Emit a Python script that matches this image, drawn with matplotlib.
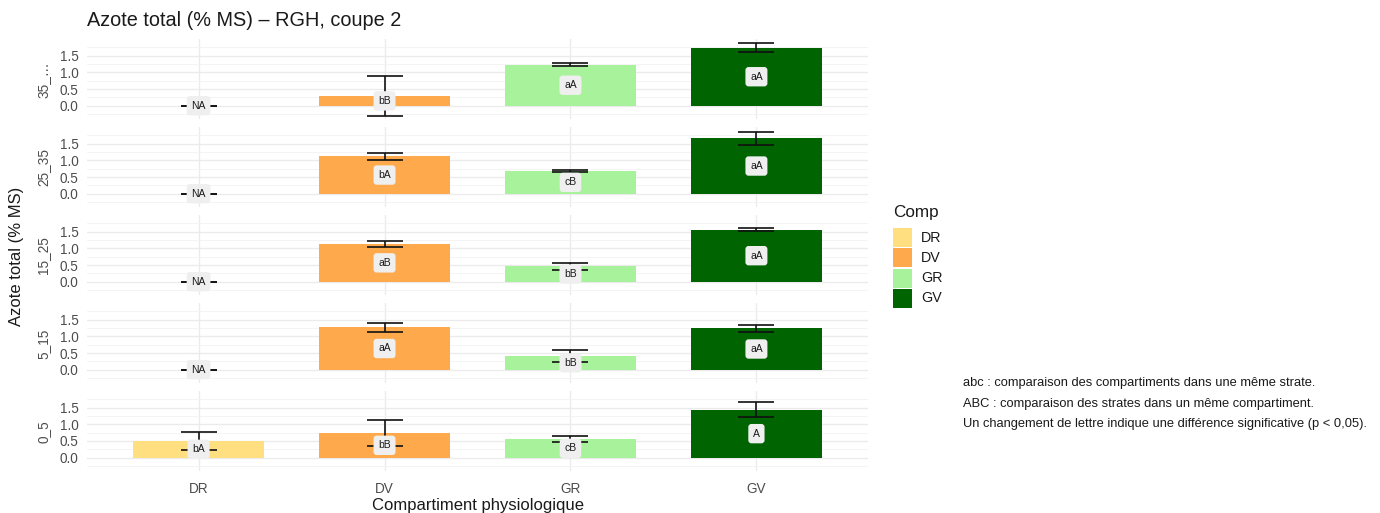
import numpy as np
import matplotlib
matplotlib.use("Agg")
import matplotlib.pyplot as plt
from matplotlib.patches import Rectangle

plt.rcParams['font.family'] = ['Liberation Sans', 'DejaVu Sans']

# compartments and soil strata (top to bottom)
comps = ["DR", "DV", "GR", "GV"]
strates = ["35_…", "25_35", "15_25", "5_15", "0_5"]
colors = ["#FFDF80", "#FFA94D", "#A8F29B", "#006400"]

# mean nitrogen content (% DM), NaN = no sample
means = [
    [np.nan, 0.29, 1.23, 1.74],
    [np.nan, 1.12, 0.68, 1.66],
    [np.nan, 1.13, 0.46, 1.56],
    [np.nan, 1.27, 0.41, 1.24],
    [0.50, 0.74, 0.56, 1.44],
]
sds = [
    [np.nan, 0.59, 0.05, 0.14],
    [np.nan, 0.10, 0.04, 0.20],
    [np.nan, 0.08, 0.10, 0.05],
    [np.nan, 0.14, 0.18, 0.10],
    [0.27, 0.38, 0.09, 0.22],
]
letters = [
    ["NA", "bB", "aA", "aA"],
    ["NA", "bA", "cB", "aA"],
    ["NA", "aB", "bB", "aA"],
    ["NA", "aA", "bB", "aA"],
    ["bA", "bB", "cB", "A"],
]

m = np.nan_to_num(np.array(means))
s = np.nan_to_num(np.array(sds))
lo = (m - s).min()
hi = (m + s).max()
pad = 0.05 * (hi - lo)

W, H = 1380, 513
fig, axes = plt.subplots(5, 1, figsize=(W/100, H/100), dpi=100, sharex=True, sharey=True)
fig.subplots_adjust(left=87/W, right=868/W, top=1-39.4/H, bottom=1-471.3/H, hspace=0.1)

x = np.arange(len(comps))
for i, ax in enumerate(axes):
    ax.set_axisbelow(True)
    ax.bar(x, m[i], width=0.7, color=colors, zorder=2)
    ax.errorbar(x, m[i], yerr=s[i], fmt='none', ecolor='#111111', elinewidth=1.2,
                capsize=13, capthick=1.2, zorder=3)
    for j in range(len(comps)):
        ax.text(x[j], m[i][j] / 2, letters[i][j], ha='center', va='center', fontsize=7.5,
                color='#1a1a1a', zorder=4,
                bbox=dict(boxstyle='round,pad=0.45,rounding_size=0.3', fc='#EFEFEF', ec='none'))
    ax.set_ylim(lo - pad, hi + pad)
    ax.set_xlim(-0.6, 3.6)
    ax.set_yticks([0, 0.5, 1.0, 1.5])
    ax.set_yticks([-0.25, 0.25, 0.75, 1.25, 1.75], minor=True)
    ax.set_yticklabels(["0.0", "0.5", "1.0", "1.5"])
    ax.grid(True, which='major', color='#EBEBEB', lw=1.0)
    ax.grid(True, which='minor', axis='y', color='#F3F3F3', lw=0.6)
    ax.tick_params(which='both', length=0, labelsize=9.8, labelcolor='#4D4D4D', pad=6)
    for sp in ax.spines.values():
        sp.set_visible(False)
    # strata label on the left side
    ax.text(-0.056, 0.5, strates[i], transform=ax.transAxes, rotation=90,
            ha='center', va='center', fontsize=9.8, color='#4D4D4D')

axes[-1].set_xticks(x)
axes[-1].set_xticklabels(comps)
axes[-1].tick_params(axis='x', pad=8)
axes[-1].set_xlabel("Compartiment physiologique", fontsize=12, color='#1a1a1a', labelpad=1)

fig.text(17/W, 0.5, "Azote total (% MS)", rotation=90, ha='center', va='center',
         fontsize=12, color='#1a1a1a')
fig.text(87/W, 1 - 20/H, "Azote total (% MS) – RGH, coupe 2", ha='left', va='center',
         fontsize=14.3, color='#1a1a1a')

# legend drawn by hand: title, colour keys, labels
fig.text(893/W, 1 - 212/H, "Comp", ha='left', va='center', fontsize=12.3, color='#1a1a1a')
for k, (c, name) in enumerate(zip(colors, comps)):
    yc = 237.5 + 20.3*k
    fig.add_artist(Rectangle((893/W, 1 - (yc + 9.5)/H), 18.5/W, 19/H,
                             transform=fig.transFigure, fc=c, ec='none'))
    fig.text(921/W, 1 - yc/H, name, ha='left', va='center', fontsize=10.3, color='#1a1a1a')

notes = ["abc : comparaison des compartiments dans une même strate.",
         "ABC : comparaison des strates dans un même compartiment.",
         "Un changement de lettre indique une différence significative (p < 0,05)."]
for k, line in enumerate(notes):
    fig.text(963/W, 1 - (383 + 20.5*k)/H, line, ha='left', va='center',
             fontsize=9.3, color='#1a1a1a')

fig.savefig("out.png", dpi=100)
